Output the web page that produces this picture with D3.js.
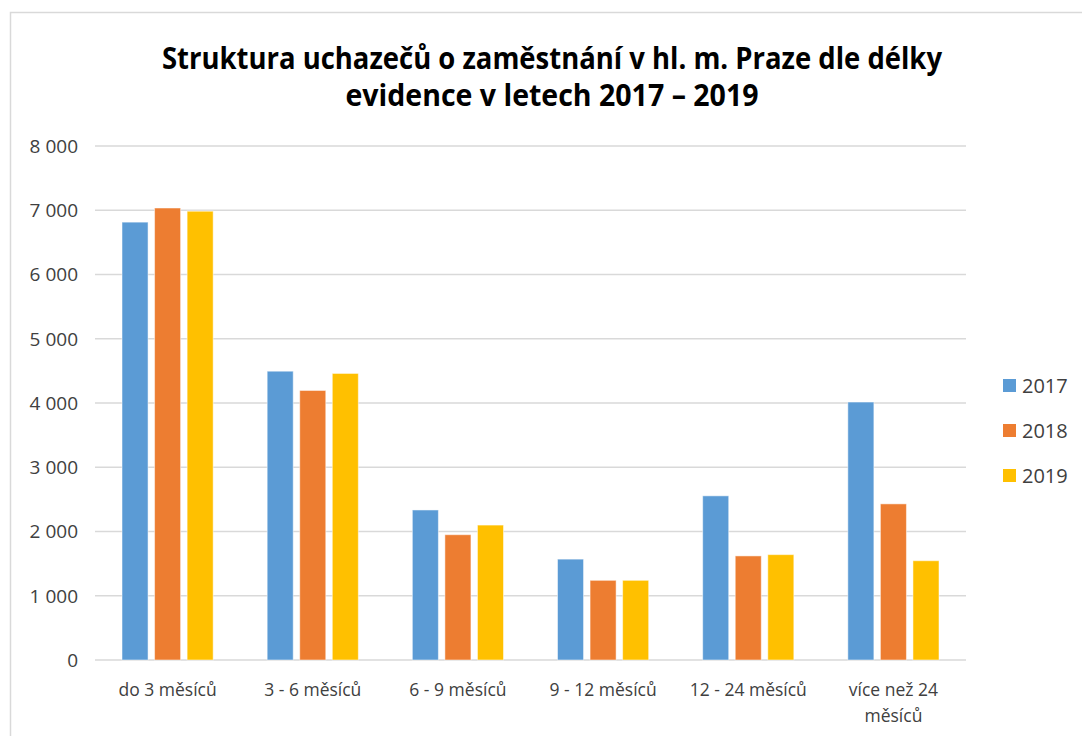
<!DOCTYPE html>
<html>
<head>
<meta charset="utf-8">
<script src="https://cdn.jsdelivr.net/npm/d3@7"></script>
<style>
  body { margin: 0; background: #fff; }
  svg { display: block; }
</style>
</head>
<body>
<div id="chart"></div>
<script>
// Data
var categories = ["do 3 měsíců", "3 - 6 měsíců", "6 - 9 měsíců", "9 - 12 měsíců", "12 - 24 měsíců", "více než 24 měsíců"];
var years = ["2017", "2018", "2019"];
var values2017 = [6815, 4495, 2335, 1570, 2555, 4015];
var values2018 = [7035, 4195, 1950, 1240, 1620, 2430];
var values2019 = [6985, 4460, 2100, 1240, 1640, 1545];
var yTicks = [0, 1000, 2000, 3000, 4000, 5000, 6000, 7000, 8000];
var titleLines = ["Struktura uchazečů o zaměstnání v hl. m. Praze dle délky", "evidence v letech 2017 – 2019"];
var colors = ["#5B9BD5", "#ED7D31", "#FFC000"];

var series = [values2017, values2018, values2019];

var W = 1082, H = 736;
var margin = { top: 146, right: 116, bottom: 76, left: 95 },
    width = W - margin.left - margin.right,
    height = H - margin.top - margin.bottom;

var svg = d3.select('#chart').append('svg')
    .attr('width', W)
    .attr('height', H);

// chart frame
svg.append("rect")
    .attr("x", 10.5).attr("y", 12.5)
    .attr("width", 1100).attr("height", 800)
    .attr("fill", "#fff")
    .attr("stroke", "#d9d9d9")
    .attr("stroke-width", 1.5);

// title
svg.selectAll(".title")
    .data(titleLines)
    .enter().append("text")
    .attr("class", "title")
    .attr("x", 552)
    .attr("y", function (d, i) { return 69 + i * 37; })
    .attr("text-anchor", "middle")
    .attr("textLength", function (d, i) { return i == 0 ? 780 : 413; })
    .attr("lengthAdjust", "spacingAndGlyphs")
    .style("font-family", "'Open Sans', sans-serif")
    .style("font-weight", "bold")
    .style("font-size", "30px")
    .style("fill", "#000")
    .text(function (d) { return d; });

var g = svg.append('g')
    .attr('transform', 'translate(' + margin.left + ',' + margin.top + ')');

var y = d3.scaleLinear().domain([0, 8000]).range([height, 0]);
var x0 = d3.scaleBand().domain(categories).range([0, width]);
var x1 = d3.scaleBand().domain(years)
    .range([27, x0.bandwidth() - 27])
    .paddingInner(0.2);

var fmt = d3.formatLocale({ decimal: ",", thousands: " ", grouping: [3], currency: ["", " Kč"] }).format(",d");

// gridlines
g.selectAll(".grid")
    .data(yTicks)
    .enter().append("line")
    .attr("x1", 0).attr("x2", width)
    .attr("y1", function (d) { return y(d); })
    .attr("y2", function (d) { return y(d); })
    .attr("stroke", "#d9d9d9")
    .attr("stroke-width", 1.5);

// y labels
g.selectAll(".ylab")
    .data(yTicks)
    .enter().append("text")
    .attr("x", -17)
    .attr("y", function (d) { return y(d); })
    .attr("dy", "0.36em")
    .attr("text-anchor", "end")
    .style("font-family", "'Open Sans', sans-serif")
    .style("font-size", "19px")
    .style("fill", "#404040")
    .text(function (d) { return fmt(d); });

// bars
var groups = g.selectAll(".cat")
    .data(categories)
    .enter().append("g")
    .attr("transform", function (d) { return "translate(" + x0(d) + ",0)"; });

groups.selectAll("rect")
    .data(function (d, i) { return years.map(function (yr, j) { return { year: yr, value: series[j][i], color: colors[j] }; }); })
    .enter().append("rect")
    .attr("x", function (d) { return x1(d.year); })
    .attr("width", x1.bandwidth())
    .attr("y", function (d) { return y(d.value); })
    .attr("height", function (d) { return height - y(d.value); })
    .attr("fill", function (d) { return d.color; })
    .attr("stroke", "#fff")
    .attr("stroke-opacity", 0.5)
    .attr("stroke-width", 1);

// x labels (wrap the last one)
function labelLines(d) {
    return d == "více než 24 měsíců" ? ["více než 24", "měsíců"] : [d];
}
var xl = g.selectAll(".xlab")
    .data(categories)
    .enter().append("text")
    .attr("text-anchor", "middle")
    .style("font-family", "'Open Sans', sans-serif")
    .style("font-size", "17.5px")
    .style("fill", "#404040")
    .attr("transform", function (d) { return "translate(" + (x0(d) + x0.bandwidth() / 2) + "," + (height + 36) + ")"; });

xl.selectAll("tspan")
    .data(labelLines)
    .enter().append("tspan")
    .attr("x", 0)
    .attr("y", function (d, i) { return i * 26; })
    .text(function (d) { return d; });

// legend
var legend = svg.append("g").attr("transform", "translate(1003,386)");
var items = legend.selectAll("g")
    .data(years)
    .enter().append("g")
    .attr("transform", function (d, i) { return "translate(0," + (i * 45) + ")"; });
items.append("rect")
    .attr("x", 0).attr("y", -7)
    .attr("width", 13).attr("height", 13)
    .attr("fill", function (d, i) { return colors[i]; });
items.append("text")
    .attr("x", 19)
    .attr("dy", "0.36em")
    .style("font-family", "'Open Sans', sans-serif")
    .style("font-size", "20px")
    .style("fill", "#404040")
    .text(function (d) { return d; });
</script>
</body>
</html>
